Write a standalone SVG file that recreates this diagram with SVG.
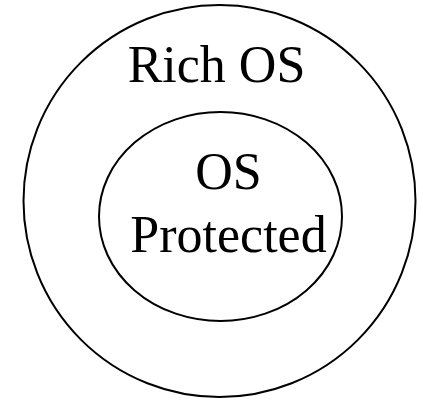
<svg xmlns="http://www.w3.org/2000/svg" width="423" height="400" viewBox="0 0 423 400">
<style>
.ring{fill:none;stroke:#000;stroke-width:2}
.lbl{font-family:"Liberation Serif","Times New Roman",serif;font-size:52px;fill:#000;text-anchor:middle}
</style>
<rect width="423" height="400" fill="#fff"/>
<g id="rich-os">
<circle class="ring" cx="219.5" cy="201" r="196"/>
<text class="lbl" x="216.5" y="81.5">Rich OS</text>
</g>
<g id="os-protected">
<ellipse class="ring" cx="220.5" cy="216.5" rx="121.5" ry="104.5"/>
<text class="lbl" x="228.5" y="188.5">OS</text>
<text class="lbl" x="228.5" y="251.5">Protected</text>
</g>
<g id="connectors"/>
</svg>
